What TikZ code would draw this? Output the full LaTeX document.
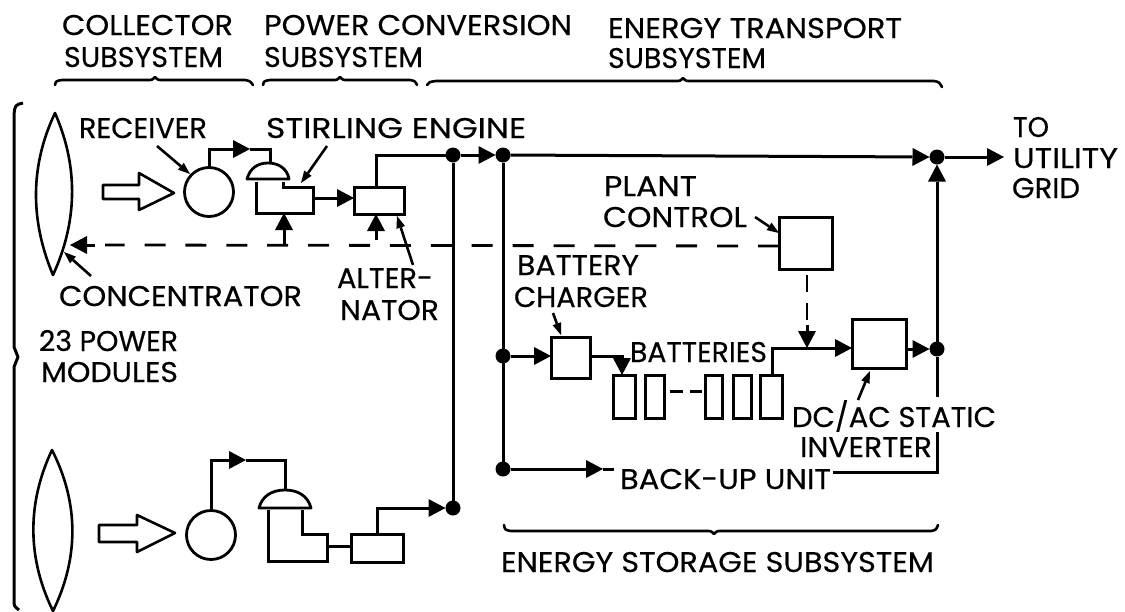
\documentclass[tikz,border=0pt]{standalone}
\usepackage{graphicx}
\usepackage{fontspec}
\setmainfont[FakeBold=0.35]{Poppins}
\usetikzlibrary{arrows.meta}
\newcommand{\fitw}[2]{\resizebox{#1pt}{\height}{#2}}
\tikzset{
  wire/.style={line width=3pt,line join=miter},
  flow/.style={wire,-{Triangle[length=17pt,width=18pt,line width=0pt]}},
  lead/.style={line width=2.6pt,-{Triangle[length=12pt,width=9pt,line width=0pt]}},
  ctrl/.style={line width=2.8pt,dash pattern=on 21pt off 19.9pt},
  ctrlv/.style={line width=2.8pt,dash pattern=on 17pt off 11pt},
  outline/.style={line width=2.6pt,line join=round},
  boxn/.style={draw,line width=3pt,rectangle,inner sep=0pt,outer sep=0pt},
  recv/.style={draw,line width=2.8pt,circle,inner sep=0pt,outer sep=0pt,minimum size=49pt},
  dotn/.style={fill=black,circle,inner sep=0pt,outer sep=0pt,minimum size=15pt},
  lab/.style={anchor=base west,inner sep=0pt,outer sep=0pt,font=\fontsize{28.5pt}{30pt}\selectfont},
  brace/.style={line width=2.6pt,line cap=round,line join=round},
}
\begin{document}
\begin{tikzpicture}[x=1pt,y=-1pt]
\useasboundingbox (0,0) rectangle (1125,611);
% labels
\node[lab] (t1a) at (62,35) {\fitw{171}{COLLECTOR}};
\node[lab] (t1b) at (64,67) {\fitw{159}{SUBSYSTEM}};
\node[lab] (t2a) at (264,35) {\fitw{308}{POWER CONVERSION}};
\node[lab] (t2b) at (264,67) {\fitw{159}{SUBSYSTEM}};
\node[lab] (t3a) at (608,38) {\fitw{294}{ENERGY TRANSPORT}};
\node[lab] (t3b) at (608,68) {\fitw{158}{SUBSYSTEM}};
\node[lab] (trec) at (79,138) {\fitw{128}{RECEIVER}};
\node[lab] (tsti) at (266,138) {\fitw{260}{STIRLING ENGINE}};
\node[lab] (tto) at (1013,137) {\fitw{36}{TO}};
\node[lab] (tuti) at (1013,168) {\fitw{105}{UTILITY}};
\node[lab] (tgri) at (1012,198) {\fitw{68}{GRID}};
\node[lab] (tpla) at (604,196) {\fitw{93}{PLANT}};
\node[lab] (tcon) at (603,227) {\fitw{144}{CONTROL}};
\node[lab] (tcct) at (59,306) {\fitw{243}{CONCENTRATOR}};
\node[lab] (talt) at (337,288) {\fitw{96}{ALTER-}};
\node[lab] (tnat) at (340,320) {\fitw{99}{NATOR}};
\node[lab] (tpow) at (39,351) {\fitw{139}{23 POWER}};
\node[lab] (tmod) at (41,382) {\fitw{137}{MODULES}};
\node[lab] (tbat) at (517,275) {\fitw{122}{BATTERY}};
\node[lab] (tcha) at (514,307) {\fitw{134}{CHARGER}};
\node[lab] (tbts) at (630,362) {\fitw{137}{BATTERIES}};
\node[lab] (tdc) at (792,427) {\fitw{204}{DC/AC STATIC}};
\node[lab] (tinv) at (800,457) {\fitw{132}{INVERTER}};
\node[lab] (tbak) at (620,489) {\fitw{211}{BACK-UP UNIT}};
\node[lab] (tsto) at (501,572) {\fitw{433}{ENERGY STORAGE SUBSYSTEM}};
% braces
\draw[brace] (55,85) .. controls (56,81) .. (62,80) -- (148,80) .. controls (152,80) .. (155,77) .. controls (158,80) .. (162,80) -- (245,80) .. controls (250,81) .. (253,85);
\draw[brace] (263,85) .. controls (264,81) .. (270,80) -- (333,80) .. controls (337,80) .. (340,77) .. controls (343,80) .. (347,80) -- (410,80) .. controls (415,81) .. (417,85);
\draw[brace] (427,85) .. controls (429,82) .. (436,81) -- (676,81) .. controls (680,81) .. (683,78) .. controls (686,81) .. (690,81) -- (934,81) .. controls (939,82) .. (942,87);
\draw[brace] (504,525) .. controls (505,530) .. (511,531) -- (707,531) .. controls (711,531) .. (714,534) .. controls (717,531) .. (721,531) -- (931,531) .. controls (936,530) .. (938,525);
% left bracket
\draw[line width=3pt,line join=round] (23,103) .. controls (15,105) .. (14,115) -- (14,347) -- (18,357) -- (14,367) -- (14,600) .. controls (14,606) .. (19,610);
% lenses
\draw[outline] (55,113) .. controls (28,170) and (32,225) .. (53,275) .. controls (76,225) and (80,170) .. (55,113) -- cycle;
\draw[outline] (52,450) .. controls (26,505) and (28,560) .. (53,611) .. controls (78,560) and (80,505) .. (52,450) -- cycle;
% hollow arrows
\draw[outline] (103,185) -- (139,185) -- (139,173) -- (174,193) -- (139,210) -- (139,199) -- (103,199) -- cycle;
\draw[outline] (99,525) -- (137,525) -- (137,515) -- (175,533) -- (137,552) -- (137,542) -- (99,542) -- cycle;
% receivers
\node[recv] (rec1) at (209,192) {};
\node[recv] (rec2) at (211,535) {};
% module 1
\coordinate (d1) at (270,163);
\coordinate (h1) at (250,149);
\draw[wire] (h1) -| (d1);
\draw[flow] (rec1.north) |- (h1);
\draw[outline,line width=2.8pt] (247,179) .. controls (250,168) and (258,163) .. (268,163) .. controls (278,163) and (287,168) .. (289,179) -- cycle;
\coordinate (e1w) at (313,198);
\coordinate (e1s) at (284,213);
\draw[wire] (256,182) -- (256,213) -- (313,213) -- (313,187) -- (283,187) -- (283,182);
\node[boxn,minimum width=50pt,minimum height=27pt] (alt1) at (379,200.5) {};
\draw[flow] (e1w) -- (alt1.west |- e1w);
% junctions
\node[dotn] (j1) at (453,155) {};
\node[dotn] (j2) at (453,508) {};
\node[dotn] (j3) at (503,155) {};
\node[dotn] (j4) at (937,157) {};
\node[dotn] (j5) at (503,356) {};
\node[dotn] (j6) at (503,469) {};
\node[dotn] (j7) at (937,349) {};
\draw[wire] (376,187) |- (j1);
\draw[wire] (j1) -- (j2);
\draw[flow] (j1) -- (j3.west);
\draw[flow] (j3) -- (j4.west);
\draw[wire] (j3) -- (j6);
\coordinate (gr) at (1004,157);
\draw[flow] (j4) -- (gr);
\draw[flow] (j7) -- (j4.south);
\draw[flow] (rec2.north) |- (246,460);
\draw[wire] (246,460) -| (285,490);
% module 2
\draw[outline,line width=2.8pt] (259,508) .. controls (262,496) and (272,490) .. (285,490) .. controls (298,490) and (308,496) .. (311,508) -- cycle;
\draw[wire] (268,510) -- (268,561) -- (327,561) -- (327,534) -- (302,534) -- (302,510);
\node[boxn,minimum width=52pt,minimum height=28pt] (alt2) at (377,548) {};
\draw[wire] (327,546) -- (alt2.west |- 0,546);
\draw[wire] (377,534) |- (428,508);
\draw[flow] (428,508) -- (j2.west);
% plant control
\node[boxn,minimum width=53pt,minimum height=52pt] (pc) at (805.5,243) {};
\coordinate (lensr) at (70,245);
\coordinate (da) at (284,245);
\coordinate (db) at (376,240);
\draw[ctrl] (pc.west |- 0,246) -- (105,245);
\draw[flow] (95,245) -- (lensr);
\draw[flow] (da) -- (e1s);
\draw[flow] (db) -- (376,214);
% inverter
\node[boxn,minimum width=54pt,minimum height=49pt] (inv) at (879,343.5) {};
\coordinate (cj) at (807,348);
\draw[ctrlv] (807,275) -- (807,320);
\draw[flow] (807,325) -- (cj);
% batteries
\node[boxn,minimum width=22pt,minimum height=43pt] (b1) at (624,396.5) {};
\node[boxn,minimum width=19pt,minimum height=43pt] (b2) at (654.5,396.5) {};
\node[boxn,minimum width=17pt,minimum height=43pt] (b3) at (713.5,396.5) {};
\node[boxn,minimum width=18pt,minimum height=43pt] (b4) at (742,396.5) {};
\node[boxn,minimum width=22pt,minimum height=43pt] (b5) at (771,396.5) {};
\draw[wire] (670,391) -- (683,391);
\draw[wire] (690,391) -- (702,391);
\node[boxn,minimum width=39pt,minimum height=41pt] (chg) at (570.5,357.5) {};
\draw[flow] (j5) -- (chg.west |- j5);
\draw[wire] (chg.east |- j5) -| (622,362);
\draw[flow] (622,360) -- (b1.north -| 622,0);
\draw[wire] (772,375) |- (835,348);
\draw[flow] (835,348) -- (inv.west |- 835,348);
\draw[flow] (inv.east |- j7) -- (j7.west);
\draw[wire] (j7) -- (937,397);
\draw[wire] (937,432) |- (833,472);
\draw[flow] (j6) -- (603,469);
\draw[wire] (603,469) -- (614,469);
% leaders
\draw[lead] (157,146) -- (190,174);
\draw[lead] (327,146) -- (301,183);
\draw[lead] (413,265) -- (397,216);
\draw[lead] (91,276) -- (64,252);
\draw[lead] (755,217) -- (779,233);
\draw[lead] (553,313) -- (561,335);
\draw[lead] (858,400) -- (870,371);
\end{tikzpicture}
\end{document}
